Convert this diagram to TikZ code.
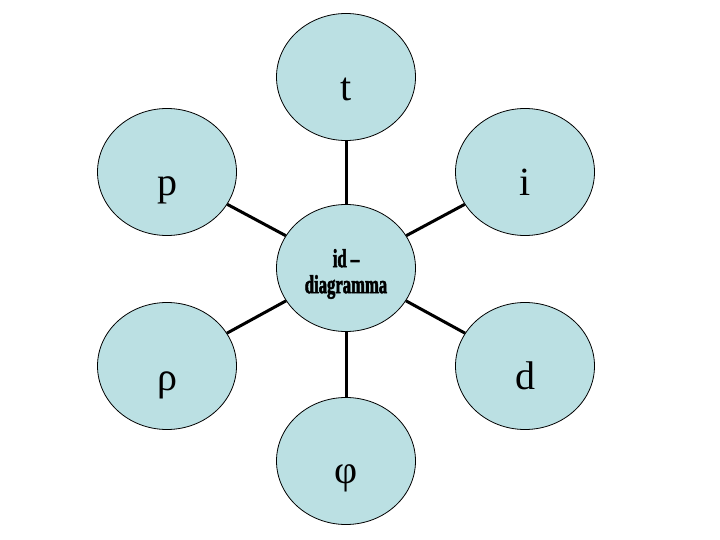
\documentclass[tikz,border=0pt]{standalone}
\usepackage{fontspec}
\setmainfont{Liberation Serif}
\newfontfamily\narrowserif{Liberation Serif Bold}[FakeStretch=0.64,FakeBold=2]
\usetikzlibrary{shapes.geometric}
\definecolor{bubblefill}{RGB}{187,224,227}
\tikzset{
    bubble/.style={ellipse, draw, line width=0.8pt, fill=bubblefill,
        minimum width=139pt, minimum height=127pt, inner sep=0pt},
    link/.style={line width=3pt},
    tag/.style={anchor=base, font=\fontsize{40}{40}\selectfont},
}
\begin{document}
\begin{tikzpicture}[x=1pt,y=-1pt]
        \useasboundingbox (0,0) rectangle (720,540);
        % Central circle
        \node[bubble] (c) at (346,268) {};
        \node[align=center, font=\narrowserif\fontsize{26}{26}\selectfont]
            (ctext) at ([yshift=-6pt]c.center) {id –\\diagramma};
        % Outer circles
        \foreach \n/\x/\y in {t/346/77, i/525/172, d/525/366, phi/346/461, rho/167/366, p/167/172} {
                \node[bubble] (\n) at (\x,\y) {};
            }
        % Links
        \foreach \n in {t,i,d,phi,rho,p} {
                \draw[link] (c) -- (\n);
            }
        % Labels
        \node[tag] (tl) at ([yshift=-24pt]t.center) {t};
        \node[tag] (il) at ([yshift=-24pt]i.center) {i};
        \node[tag] (dl) at ([yshift=-23pt]d.center) {d};
        \node[tag] (phil) at ([yshift=-22pt]phi.center) {φ};
        \node[tag] (rhol) at ([yshift=-24pt]rho.center) {ρ};
        \node[tag] (pl) at ([yshift=-24pt]p.center) {p};
    \end{tikzpicture}
\end{document}
